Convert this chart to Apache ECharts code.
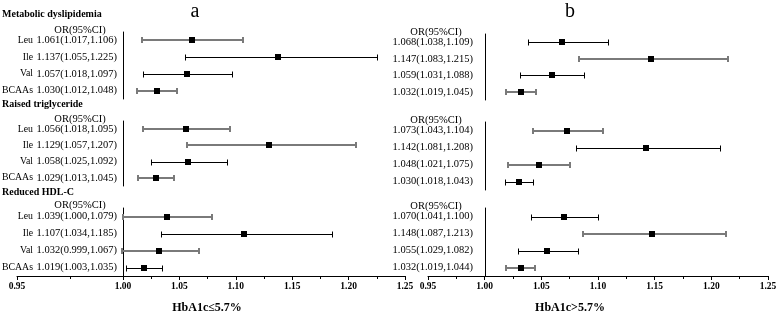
<!DOCTYPE html>
<html>
<head>
<meta charset="utf-8">
<script src="https://cdn.jsdelivr.net/npm/echarts@6/dist/echarts.min.js"></script>
<style>
  html, body { margin: 0; padding: 0; background: #fff; }
  #chart { width: 778px; height: 313px; }
</style>
</head>
<body>
<div id="chart"></div>
<script>
const markers = ['Leu', 'Ile', 'Val', 'BCAAs'];
const outcomes = ['Metabolic dyslipidemia', 'Raised triglyceride', 'Reduced HDL-C'];
const panels = ['a', 'b'];
const groups = ['HbA1c≤5.7%', 'HbA1c>5.7%'];
const xTicks = [0.95, 1.00, 1.05, 1.10, 1.15, 1.20, 1.25];

// HbA1c <= 5.7% : OR and 95% CI, one row per outcome
const lowOr = [[1.061, 1.137, 1.057, 1.030], [1.056, 1.129, 1.058, 1.029], [1.039, 1.107, 1.032, 1.019]];
const lowLo = [[1.017, 1.055, 1.018, 1.012], [1.018, 1.057, 1.025, 1.013], [1.000, 1.034, 0.999, 1.003]];
const lowHi = [[1.106, 1.225, 1.097, 1.048], [1.095, 1.207, 1.092, 1.045], [1.079, 1.185, 1.067, 1.035]];

// HbA1c > 5.7%
const highOr = [[1.068, 1.147, 1.059, 1.032], [1.073, 1.142, 1.048, 1.030], [1.070, 1.148, 1.055, 1.032]];
const highLo = [[1.038, 1.083, 1.031, 1.019], [1.043, 1.081, 1.021, 1.018], [1.041, 1.087, 1.029, 1.019]];
const highHi = [[1.109, 1.215, 1.088, 1.045], [1.104, 1.208, 1.075, 1.043], [1.100, 1.213, 1.082, 1.044]];

// line shade of each bar in the original (g = grey, k = black)
const lowShade = [['g', 'k', 'k', 'g'], ['g', 'g', 'k', 'g'], ['g', 'k', 'g', 'k']];
const highShade = [['k', 'g', 'k', 'g'], ['g', 'k', 'g', 'k'], ['k', 'g', 'k', 'g']];

const FONT = 'Liberation Serif';
const lowBands = [{ top: 32, height: 67 }, { top: 121, height: 65 }, { top: 208, height: 68 }];
const highBands = [{ top: 34, height: 66 }, { top: 122, height: 68 }, { top: 208, height: 68 }];

const fmt = (v) => v.toFixed(3);
const orText = (or, lo, hi, s) => (v, i) => `${fmt(or[s][i])}(${fmt(lo[s][i])},${fmt(hi[s][i])})`;

const chart = echarts.init(document.getElementById('chart'));

const grid = [];
const xAxis = [];
const yAxis = [];
const series = [];

function xAxisFor(gi, showAxis, min) {
  return {
    gridIndex: gi,
    type: 'value',
    min: min,
    max: xTicks[xTicks.length - 1],
    interval: 0.05,
    show: showAxis,
    splitLine: { show: false },
    axisLine: { show: true, onZero: false, lineStyle: { color: '#000', width: 1 } },
    axisTick: { show: true, length: 4, lineStyle: { color: '#000', width: 1 } },
    minorTick: { show: true, splitNumber: 2, length: 3, lineStyle: { color: '#000', width: 1 } },
    axisLabel: {
      margin: 6,
      color: '#000',
      fontFamily: FONT,
      fontWeight: 'bold',
      fontSize: 9.5,
      formatter: (v) => v.toFixed(2)
    }
  };
}

function barSeries(xi, yi, or, lo, hi, shade, s) {
  const data = markers.map((m, i) => [lo[s][i], hi[s][i], i, or[s][i]]);
  return {
    type: 'custom',
    xAxisIndex: xi,
    yAxisIndex: yi,
    silent: true,
    clip: false,
    encode: { x: [0, 1, 3], y: 2 },
    data: data,
    renderItem: (params, api) => {
      const idx = api.value(2);
      const a = api.coord([api.value(0), idx]);
      const b = api.coord([api.value(1), idx]);
      const c = api.coord([api.value(3), idx]);
      const grey = shade[s][params.dataIndex] === 'g';
      const w = grey ? 2 : 1;
      const off = grey ? 0 : 0.5;
      const y = Math.round(a[1]) + off;
      const x0 = Math.round(a[0]) + off;
      const x1 = Math.round(b[0]) + off;
      const style = { stroke: grey ? '#7a7a7a' : '#000', lineWidth: w };
      return {
        type: 'group',
        children: [
          { type: 'line', shape: { x1: x0, y1: y, x2: x1, y2: y }, style: style },
          { type: 'line', shape: { x1: x0, y1: y - 3, x2: x0, y2: y + 3 }, style: style },
          { type: 'line', shape: { x1: x1, y1: y - 3, x2: x1, y2: y + 3 }, style: style },
          { type: 'rect', shape: { x: Math.round(c[0]) - 3, y: Math.round(a[1]) - 3, width: 6, height: 6 }, style: { fill: '#000' } }
        ]
      };
    }
  };
}

const labelStyle = { color: '#000', fontFamily: FONT, fontSize: 10.5 };
const gridBase = { outerBoundsMode: 'none', containLabel: false };

// panel a (HbA1c <= 5.7%)
lowBands.forEach((band, s) => {
  const gi = grid.length;
  grid.push(Object.assign({ left: 123, width: 282, top: band.top, height: band.height }, gridBase));
  xAxis.push(xAxisFor(gi, s === 2, 1.0));
  const yv = yAxis.length;
  yAxis.push({
    gridIndex: gi, type: 'category', data: markers, inverse: true, position: 'left',
    axisLine: { show: true, onZero: false, lineStyle: { color: '#000', width: 1 } },
    axisTick: { show: false },
    axisLabel: Object.assign({ margin: 6, formatter: orText(lowOr, lowLo, lowHi, s),
      padding: s === 2 ? [5, 0, 0, 0] : 0 }, labelStyle)
  });
  yAxis.push({
    gridIndex: gi, type: 'category', data: markers, inverse: true, position: 'left', offset: 85,
    axisLine: { show: false }, axisTick: { show: false },
    axisLabel: Object.assign({}, labelStyle, { margin: 5, fontSize: 9.8 })
  });
  series.push(barSeries(gi, yv, lowOr, lowLo, lowHi, lowShade, s));
});

// panel b (HbA1c > 5.7%)
highBands.forEach((band, s) => {
  const gi = grid.length;
  grid.push(Object.assign({ left: 428, width: 340, top: band.top, height: band.height }, gridBase));
  xAxis.push(xAxisFor(gi, s === 2, xTicks[0]));
  const yv = yAxis.length;
  yAxis.push({
    gridIndex: gi, type: 'category', data: markers, inverse: true, position: 'left', offset: -57,
    axisLine: { show: true, onZero: false, lineStyle: { color: '#000', width: 1 } },
    axisTick: { show: false },
    axisLabel: Object.assign({ margin: 12, formatter: orText(highOr, highLo, highHi, s) }, labelStyle)
  });
  series.push(barSeries(gi, yv, highOr, highLo, highHi, highShade, s));
});

// stretched 0.95 - 1.00 part of the panel a axis
{
  const gi = grid.length;
  grid.push(Object.assign({ left: 17, width: 106, top: 208, height: 68 }, gridBase));
  const ax = xAxisFor(gi, true, xTicks[0]);
  ax.max = xTicks[1];
  ax.axisLabel.formatter = (v) => (v < 0.99 ? v.toFixed(2) : '');
  xAxis.push(ax);
  yAxis.push({ gridIndex: gi, type: 'category', data: markers, show: false });
}

const graphic = [];
const text = (x, y, str, extra) => graphic.push({
  type: 'text', x: x, y: y, silent: true,
  style: Object.assign({ text: str, fill: '#000', fontFamily: FONT, fontSize: 10,
    textAlign: 'center', textVerticalAlign: 'middle' }, extra)
});

text(195, 12, panels[0], { fontSize: 20 });
text(570, 12, panels[1], { fontSize: 20 });
outcomes.forEach((o, s) => {
  text(2, [14, 104, 192][s], o, { fontWeight: 'bold', textAlign: 'left' });
  text(80, [30, 119, 205][s], 'OR(95%CI)', { fontSize: 10.5 });
  text(436, [32, 120, 206][s], 'OR(95%CI)', { fontSize: 10.5 });
});
text(207, 308, groups[0], { fontWeight: 'bold', fontSize: 12 });
text(570, 308, groups[1], { fontWeight: 'bold', fontSize: 12 });

chart.setOption({
  animation: false,
  backgroundColor: '#fff',
  grid: grid,
  xAxis: xAxis,
  yAxis: yAxis,
  series: series,
  graphic: graphic
});
</script>
</body>
</html>
